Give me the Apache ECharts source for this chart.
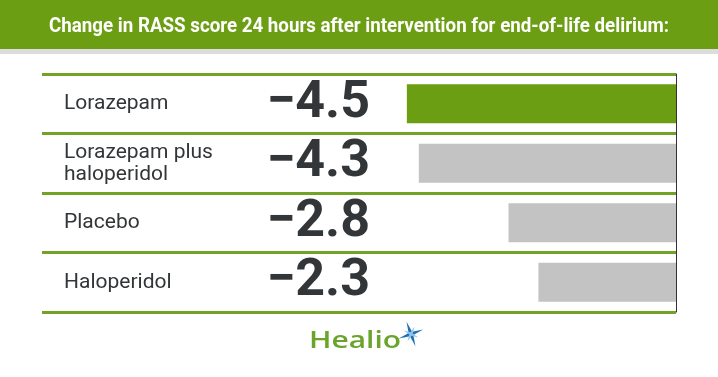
<!DOCTYPE html>
<html>
<head>
<meta charset="utf-8">
<script src="https://cdn.jsdelivr.net/npm/echarts@6/dist/echarts.min.js"></script>
<style>
html,body{margin:0;padding:0;background:#ffffff;}
#chart{width:718px;height:377px;}
</style>
</head>
<body>
<div id="chart"></div>
<script>
const titleText = 'Change in RASS score 24 hours after intervention for end-of-life delirium:';
const categories = ['Lorazepam', 'Lorazepam plus\nhaloperidol', 'Placebo', 'Haloperidol'];
const values = [-4.5, -4.3, -2.8, -2.3];
const highlight = [true, false, false, false];
const logoText = 'Healio';

const GREEN = '#6b9e12';
const GREY = '#c3c3c3';
const LINE_GREEN = '#72a226';
const TEXT = '#333638';

const TITLE_FONT = 'bold 21px Roboto';
const LOGO_FONT = '600 24px "Open Sans"';

function fmt(v) { return '\u2212' + Math.abs(v).toFixed(1); }

function textWidth(font, txt) {
  const c = document.createElement('canvas').getContext('2d');
  c.font = font;
  return c.measureText(txt).width;
}

const chart = echarts.init(document.getElementById('chart'), null, {renderer: 'canvas'});

function star(cx, cy, rOut, rIn, n, rot) {
  const pts = [];
  for (let i = 0; i < n * 2; i++) {
    const r = i % 2 === 0 ? rOut : rIn;
    const a = rot + Math.PI * i / n;
    pts.push([cx + r * Math.sin(a), cy - r * Math.cos(a)]);
  }
  return pts;
}

function build() {
  const titleScale = 620 / textWidth(TITLE_FONT, titleText);
  const logoScale = 92 / textWidth(LOGO_FONT, logoText);
  const labelInterval = 0;
  const option = {
    animation: false,
    backgroundColor: '#ffffff',
    grid: {left: 42, right: 42, top: 74, bottom: 65, containLabel: false},
    xAxis: {
      type: 'value', min: -10.6, max: 0,
      axisLine: {show: false}, axisTick: {show: false},
      axisLabel: {show: false}, splitLine: {show: false}
    },
    yAxis: [
      {
        type: 'category', data: categories, inverse: true, position: 'left',
        axisLine: {show: false}, axisTick: {show: false},
        splitLine: {show: true, interval: 0, lineStyle: {color: LINE_GREEN, width: 3}},
        axisLabel: {interval: labelInterval, align: 'left', margin: -22, fontSize: 21, lineHeight: 22,
          color: TEXT, fontFamily: 'Roboto'}
      },
      {
        type: 'category', data: categories, inverse: true, position: 'left',
        axisLine: {show: false}, axisTick: {show: false}, splitLine: {show: false},
        axisLabel: {interval: labelInterval, align: 'right', margin: -328, fontSize: 52, fontWeight: 'bold',
          color: TEXT, fontFamily: 'Roboto', padding: [3, 0, 0, 0],
          formatter: function (v, i) { return fmt(values[i]); }}
      },
      {
        type: 'category', data: categories, inverse: true, position: 'right',
        axisLine: {show: true, lineStyle: {color: '#333333', width: 1}},
        axisTick: {show: false}, axisLabel: {show: false}, splitLine: {show: false}
      }
    ],
    series: [{
      type: 'bar', yAxisIndex: 0, barWidth: 39,
      data: values.map((v, i) => ({value: v, itemStyle: {color: highlight[i] ? GREEN : GREY}})),
      label: {show: false}
    }],
    graphic: [
      {type: 'rect', shape: {x: 0, y: 0, width: 718, height: 49}, style: {fill: GREEN}, z: -1},
      {type: 'rect', shape: {x: 0, y: 49, width: 718, height: 5}, style: {fill: '#dcdcdc'}, z: -1},
      {type: 'text', x: 359, y: 27, scaleX: titleScale, style: {text: titleText, fill: '#ffffff',
        font: TITLE_FONT, textAlign: 'center', textVerticalAlign: 'middle'}},
      {type: 'text', x: 309, y: 341, scaleX: logoScale, style: {text: logoText, fill: '#6aa42a',
        font: LOGO_FONT, textAlign: 'left', textVerticalAlign: 'middle'}},
      {type: 'polygon', shape: {points: star(411, 334, 13, 2.6, 4, -0.35)}, style: {fill: '#1f6fb5'}},
      {type: 'polygon', shape: {points: star(411, 334, 8, 1.8, 4, 0.45)}, style: {fill: '#8cc2ea'}}
    ]
  };
  chart.setOption(option);
}
if (document.fonts && document.fonts.load) {
  Promise.all([document.fonts.load(TITLE_FONT), document.fonts.load(LOGO_FONT)]).then(build, build);
} else { build(); }
</script>
</body>
</html>
